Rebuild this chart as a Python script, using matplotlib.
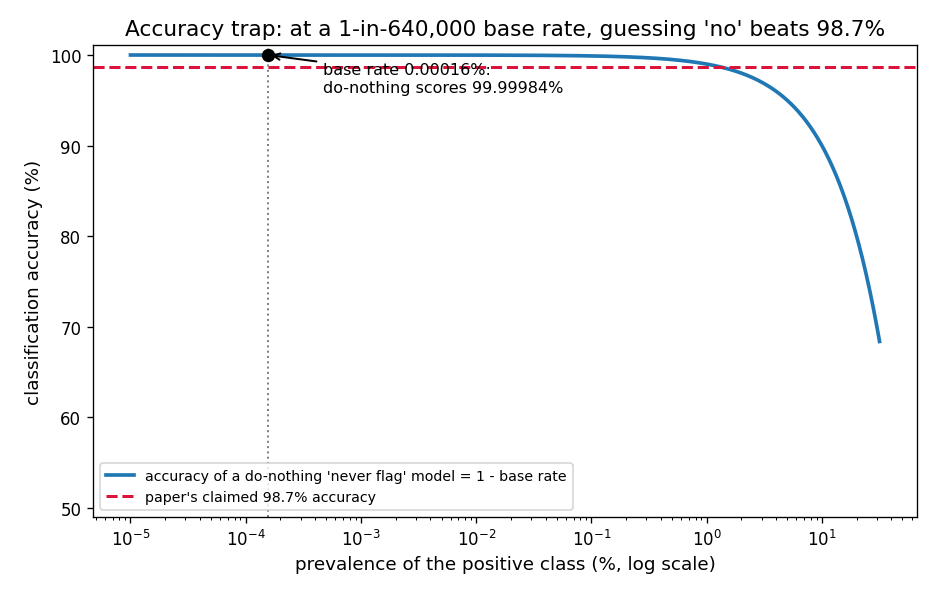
import numpy as np
import matplotlib
matplotlib.use("Agg")
import matplotlib.pyplot as plt

# data
log_prev_range = [-5, 1.5]          # prevalence (%) range, log10
n_points = 400
base_rate_pct = 100 / 640000        # 0.00015625 %
claimed_acc = 98.7

prev = np.logspace(log_prev_range[0], log_prev_range[1], n_points)
acc = 100 - prev

fig, ax = plt.subplots(figsize=(7.8, 4.9833), dpi=120)
ax.plot(prev, acc, color="#1f77b4", lw=2.2,
        label="accuracy of a do-nothing 'never flag' model = 1 - base rate")
ax.axhline(claimed_acc, color="crimson", ls="--", lw=1.8,
           label="paper's claimed 98.7% accuracy")
ax.axvline(base_rate_pct, color="gray", ls=":", lw=1.2)
ax.plot([base_rate_pct], [100 - base_rate_pct], "o", color="black", ms=7, zorder=5)
ax.annotate("base rate 0.00016%:\ndo-nothing scores 99.99984%",
            xy=(base_rate_pct, 100 - base_rate_pct),
            xytext=(33, -14), textcoords="offset points",
            va="center", ha="left", fontsize=9.6,
            arrowprops=dict(arrowstyle="->", color="black", lw=1.2))
ax.set_xscale("log")
ax.set_ylim(49, 101.1)
ax.set_xlabel("prevalence of the positive class (%, log scale)", fontsize=11)
ax.set_ylabel("classification accuracy (%)", fontsize=11)
ax.set_title("Accuracy trap: at a 1-in-640,000 base rate, guessing 'no' beats 98.7%", fontsize=13)
ax.legend(loc="lower left", fontsize=8.5)
fig.subplots_adjust(left=0.0994, right=0.9797, top=0.923, bottom=0.1338)
fig.savefig("out.png", dpi=120)
